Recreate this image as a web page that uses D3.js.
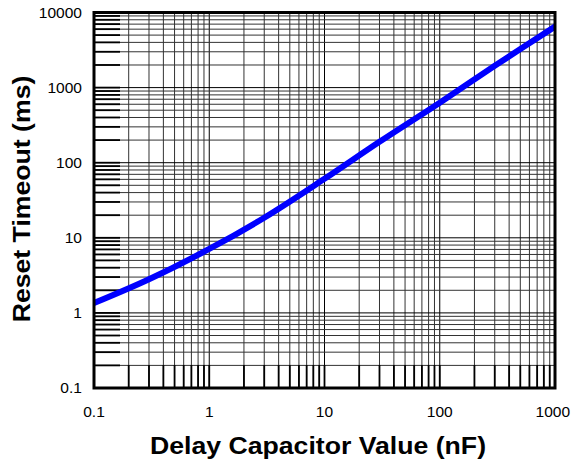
<!DOCTYPE html>
<html><head><meta charset="utf-8">
<script src="https://cdn.jsdelivr.net/npm/d3@7"></script>
<style>body{margin:0;background:#fff}</style>
</head><body>
<svg id="c" width="573" height="462"></svg>
<script>
// Data
const capValues = [0.1, 0.3, 1, 3, 10, 30, 100, 300, 1000];
const timeoutValues = [1.35, 2.8, 7.1, 18.5, 61, 190, 630, 1950, 6500];
const xTickValues = [0.1, 1, 10, 100, 1000];
const xTickLabels = ["0.1", "1", "10", "100", "1000"];
const yTickValues = [0.1, 1, 10, 100, 1000, 10000];
const yTickLabels = ["0.1", "1", "10", "100", "1000", "10000"];
const xTitle = "Delay Capacitor Value (nF)";
const yTitle = "Reset Timeout (ms)";

const W = 573, H = 462;
const m = {left: 94, right: 555, top: 12.5, bottom: 388};
const STRETCH = 1.11;

const svg = d3.select("#c");
const x = d3.scaleLog().domain([0.1, 1000]).range([m.left, m.right]);
const y = d3.scaleLog().domain([0.1, 10000]).range([m.bottom, m.top]);

function minorVals(lo, hi) {
  const out = [];
  for (let p = lo; p < hi * 0.999; p *= 10) {
    for (let k = 1; k <= 9; k++) out.push(p * k);
  }
  out.push(hi);
  return out;
}
const xAll = minorVals(0.1, 1000);
const yAll = minorVals(0.1, 10000);
const isMajor = v => Math.abs(Math.log10(v) - Math.round(Math.log10(v))) < 1e-9;

svg.append("defs").append("clipPath").attr("id", "clip")
  .append("rect").attr("x", m.left).attr("y", m.top)
  .attr("width", m.right - m.left).attr("height", m.bottom - m.top);

const g = svg.append("g");
g.selectAll("line.vx").data(xAll).join("line")
  .attr("x1", d => x(d)).attr("x2", d => x(d))
  .attr("y1", m.top).attr("y2", m.bottom)
  .attr("stroke", d => isMajor(d) ? "#000" : "#333")
  .attr("stroke-width", 1);
g.selectAll("line.hy").data(yAll).join("line")
  .attr("y1", d => y(d)).attr("y2", d => y(d))
  .attr("x1", m.left).attr("x2", m.right)
  .attr("stroke", d => isMajor(d) ? "#000" : "#333")
  .attr("stroke-width", 1);
g.selectAll("line.tb").data(xAll).join("line")
  .attr("x1", d => x(d)).attr("x2", d => x(d))
  .attr("y1", m.bottom).attr("y2", m.bottom - 23)
  .attr("stroke", "#000").attr("stroke-width", 1.8);
g.selectAll("line.tl").data(yAll).join("line")
  .attr("y1", d => y(d)).attr("y2", d => y(d))
  .attr("x1", m.left).attr("x2", m.left + 26)
  .attr("stroke", "#000").attr("stroke-width", 1.8);

const line = d3.line()
  .x((d, i) => x(capValues[i]))
  .y((d, i) => y(timeoutValues[i]))
  .curve(d3.curveCatmullRom.alpha(0.5));
svg.append("path")
  .attr("clip-path", "url(#clip)")
  .attr("d", line(capValues))
  .attr("fill", "none")
  .attr("stroke", "#0000ff")
  .attr("stroke-width", 6)
  .attr("stroke-linecap", "square");

svg.append("rect")
  .attr("x", m.left).attr("y", m.top)
  .attr("width", m.right - m.left).attr("height", m.bottom - m.top)
  .attr("fill", "none").attr("stroke", "#000").attr("stroke-width", 3);

function stretch(sel) {
  sel.each(function() {
    const len = this.getComputedTextLength();
    d3.select(this).attr("textLength", len * STRETCH).attr("lengthAdjust", "spacingAndGlyphs");
  });
}

const font = "'Liberation Sans', Arial, sans-serif";
svg.selectAll("text.xt").data(xTickValues).join("text")
  .attr("font-family", font).attr("font-size", 14)
  .attr("text-anchor", "middle")
  .attr("y", 417)
  .text((d, i) => xTickLabels[i])
  .call(stretch)
  .attr("x", function(d) {
    const half = this.getComputedTextLength() * STRETCH / 2;
    return Math.min(x(d), W - 1 - half);
  });
svg.selectAll("text.yt").data(yTickValues).join("text")
  .attr("font-family", font).attr("font-size", 14)
  .attr("text-anchor", "end")
  .attr("x", 82)
  .attr("y", d => y(d))
  .attr("dy", "0.36em")
  .text((d, i) => yTickLabels[i])
  .call(stretch);

svg.append("text")
  .attr("font-family", font).attr("font-size", 24).attr("font-weight", "bold")
  .attr("text-anchor", "middle")
  .attr("x", 318).attr("y", 454)
  .text(xTitle).call(stretch);
svg.append("text")
  .attr("font-family", font).attr("font-size", 24).attr("font-weight", "bold")
  .attr("text-anchor", "middle")
  .attr("transform", "translate(30,199) rotate(-90)")
  .text(yTitle).call(stretch);
</script>
</body></html>
